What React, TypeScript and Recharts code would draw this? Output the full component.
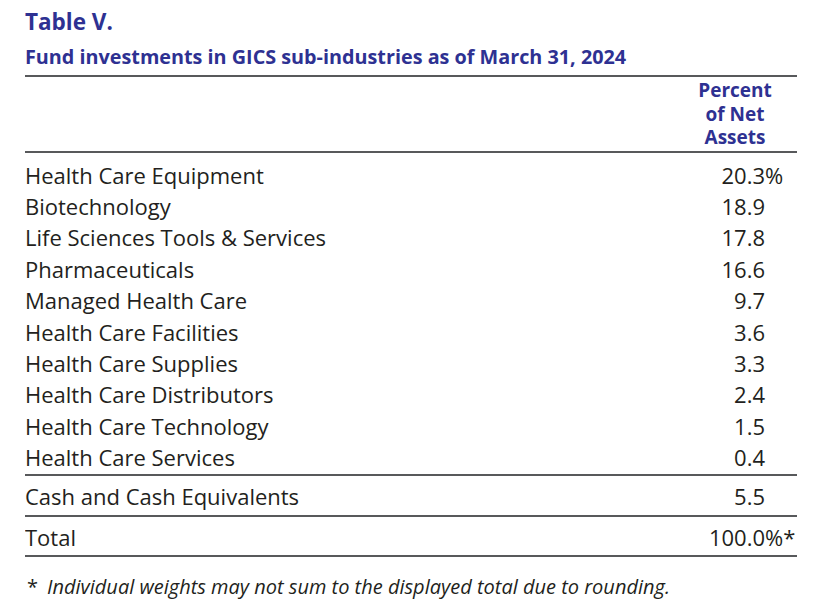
import { BarChart, Bar, XAxis, YAxis } from 'recharts';

const SUB_INDUSTRIES = [
  'Health Care Equipment',
  'Biotechnology',
  'Life Sciences Tools & Services',
  'Pharmaceuticals',
  'Managed Health Care',
  'Health Care Facilities',
  'Health Care Supplies',
  'Health Care Distributors',
  'Health Care Technology',
  'Health Care Services',
];
const WEIGHTS = [20.3, 18.9, 17.8, 16.6, 9.7, 3.6, 3.3, 2.4, 1.5, 0.4];
const CASH_LABELS = ['Cash and Cash Equivalents'];
const CASH_WEIGHTS = [5.5];
const TOTAL_LABELS = ['Total'];
const TOTAL_WEIGHTS = [100.0];

const BLUE = '#2e3192';
const INK = '#231f20';
const RULE = '#58595b';
const FONT = '"Open Sans", "Noto Sans", sans-serif';
const BODY_SIZE = 22;
const TABLE_W = 772;
const NUM_X = 740; // right edge of the numbers, inside the svg

type Row = { name: string; value: number; suffix: string };

const mainRows: Row[] = SUB_INDUSTRIES.map((name, i) => ({
  name,
  value: WEIGHTS[i],
  suffix: i === 0 ? '%' : '',
}));
const cashRows: Row[] = CASH_LABELS.map((name, i) => ({ name, value: CASH_WEIGHTS[i], suffix: '' }));
const totalRows: Row[] = TOTAL_LABELS.map((name, i) => ({ name, value: TOTAL_WEIGHTS[i], suffix: '%*' }));

function NameTick({ y, payload }: any) {
  return (
    <text x={0} y={y} dy="0.36em" textAnchor="start" fill={INK} fontSize={BODY_SIZE} fontFamily={FONT}>
      {payload.value}
    </text>
  );
}

function makeValueTick(rows: Row[]) {
  return ({ y, payload }: any) => {
    const row = rows.find((r) => r.name === payload.value);
    if (!row) return <g />;
    return (
      <g>
        <text x={NUM_X} y={y} dy="0.36em" textAnchor="end" fill={INK} fontSize={BODY_SIZE} fontFamily={FONT}>
          {row.value.toFixed(1)}
        </text>
        {row.suffix && (
          <text x={NUM_X} y={y} dy="0.36em" textAnchor="start" fill={INK} fontSize={BODY_SIZE} fontFamily={FONT}>
            {row.suffix}
          </text>
        )}
      </g>
    );
  };
}

function TableBlock({ rows, height }: { rows: Row[]; height: number }) {
  return (
    <BarChart
      layout="vertical"
      data={rows}
      width={TABLE_W}
      height={height}
      margin={{ top: 0, right: 0, bottom: 0, left: 0 }}
    >
      <XAxis type="number" domain={[0, 100]} hide />
      <YAxis
        yAxisId="names"
        type="category"
        dataKey="name"
        width={500}
        axisLine={false}
        tickLine={false}
        tick={<NameTick />}
        interval={0}
      />
      <YAxis
        yAxisId="values"
        type="category"
        dataKey="name"
        orientation="right"
        width={80}
        axisLine={false}
        tickLine={false}
        tick={makeValueTick(rows)}
        interval={0}
      />
      <Bar yAxisId="names" dataKey="value" fill="none" isAnimationActive={false} />
      <Bar yAxisId="values" dataKey="value" fill="none" isAnimationActive={false} />
    </BarChart>
  );
}

const rule = (top: number) => (
  <div style={{ position: 'absolute', left: 25, top, width: TABLE_W, height: 2, background: RULE }} />
);

export default function App() {
  return (
    <div
      style={{
        position: 'absolute',
        left: 0,
        top: 0,
        width: 816,
        height: 616,
        background: '#fff',
        fontFamily: FONT,
        overflow: 'hidden',
      }}
    >
      <div style={{ position: 'absolute', left: 25, top: 6, fontSize: 22.5, fontWeight: 700, color: BLUE }}>
        Table V.
      </div>
      <div style={{ position: 'absolute', left: 25, top: 43, fontSize: 19.8, fontWeight: 700, color: BLUE }}>
        Fund investments in GICS sub-industries as of March 31, 2024
      </div>
      {rule(75)}
      <div
        style={{
          position: 'absolute',
          left: 685,
          top: 79,
          width: 100,
          textAlign: 'center',
          fontSize: 19,
          lineHeight: '23.5px',
          fontWeight: 700,
          color: BLUE,
        }}
      >
        Percent
        <br />
        of Net
        <br />
        Assets
      </div>
      {rule(151)}
      <div style={{ position: 'absolute', left: 25, top: 160 }}>
        <TableBlock rows={mainRows} height={314} />
      </div>
      {rule(474)}
      <div style={{ position: 'absolute', left: 25, top: 478 }}>
        <TableBlock rows={cashRows} height={39} />
      </div>
      {rule(515)}
      <div style={{ position: 'absolute', left: 25, top: 519 }}>
        <TableBlock rows={totalRows} height={39} />
      </div>
      {rule(555)}
      <div
        style={{
          position: 'absolute',
          left: 27,
          top: 573,
          fontSize: 20,
          color: INK,
          whiteSpace: 'nowrap',
        }}
      >
        *<span style={{ fontStyle: 'italic', marginLeft: 9 }}>
          Individual weights may not sum to the displayed total due to rounding.
        </span>
      </div>
    </div>
  );
}
